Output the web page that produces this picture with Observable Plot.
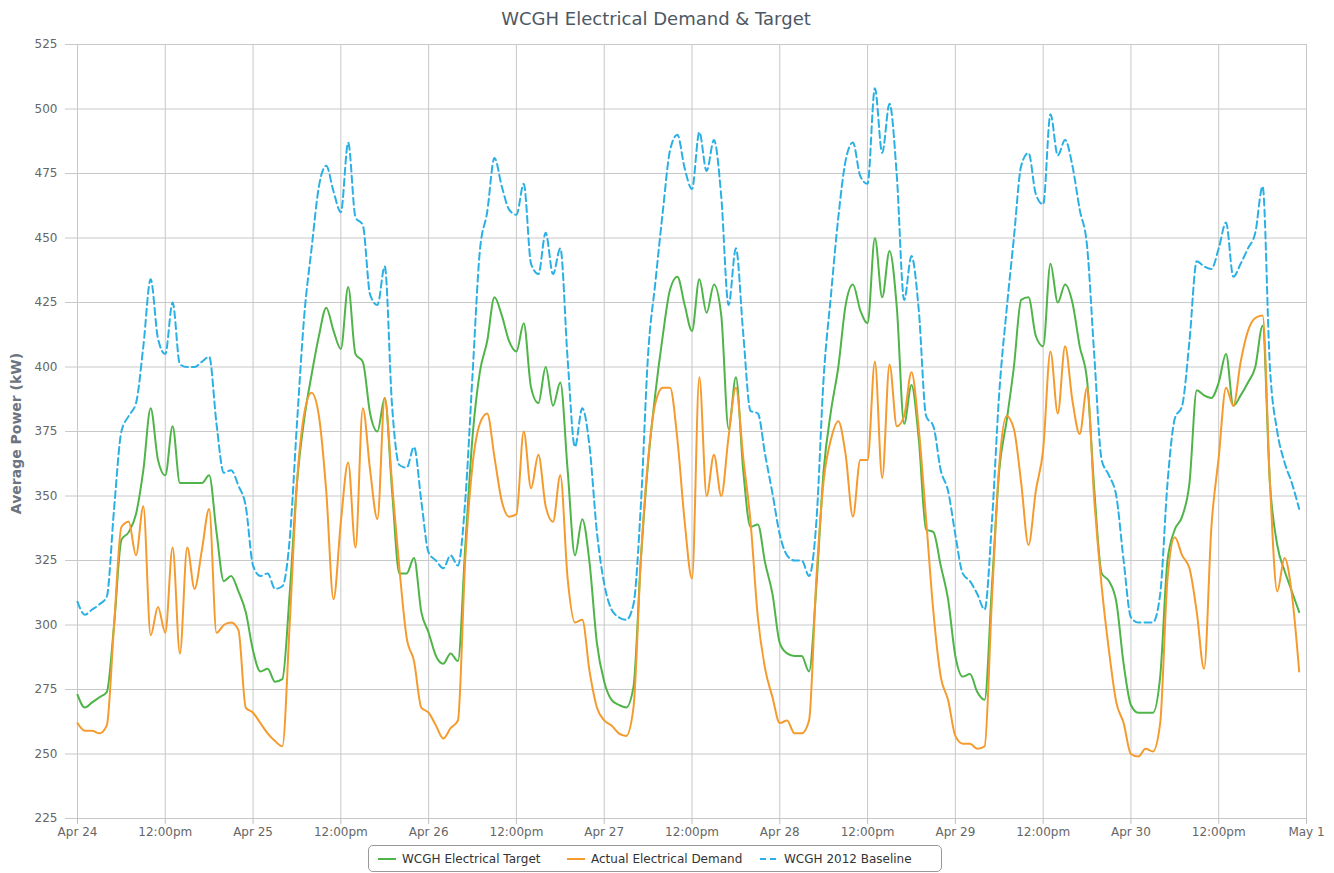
<!DOCTYPE html>
<html><head><meta charset="utf-8">
<script src="https://cdn.jsdelivr.net/npm/d3@7"></script>
<script src="https://cdn.jsdelivr.net/npm/@observablehq/plot@0.6"></script>
<style>
body{margin:0;background:#fff;font-family:"DejaVu Sans",Verdana,sans-serif;}
#wrap{position:relative;width:1334px;height:873px;}
#title{position:absolute;top:7px;left:456px;width:400px;text-align:center;font-size:18px;line-height:24px;color:#4d5864;}
#legend{position:absolute;left:368px;top:845px;width:574px;height:27px;border:1px solid #999;border-radius:5px;box-sizing:border-box;font-size:12px;color:#333;}
.item{position:absolute;top:0;height:25px;display:flex;align-items:center;white-space:nowrap;}
.item svg{margin-right:6px;}
</style></head>
<body>
<div id="wrap">
<div id="title"></div>
<div id="chart"></div>
<div id="legend"></div>
</div>
<script>
const title = "WCGH Electrical Demand & Target";
const yLabel = "Average Power (kW)";
const seriesNames = ["WCGH Electrical Target", "Actual Electrical Demand", "WCGH 2012 Baseline"];
const seriesColors = ["#4fb548", "#f59b2e", "#2bb0e5"];
const startDay = "2013-04-24"; // hourly readings from Apr 24 00:00 to Apr 30 23:00
const yTicks = [225,250,275,300,325,350,375,400,425,450,475,500,525];

const target = [
 273,268,270,272,274,300,333,336,343,360,384,364,358,377,355,355,355,355,358,336,317,319,313,305,
 290,282,283,278,279,312,355,380,397,412,423,414,407,431,405,402,382,375,388,352,320,320,326,305,
 297,288,285,289,286,330,373,398,410,427,420,410,406,417,392,386,400,385,394,360,327,341,324,293,
 278,271,269,268,276,325,363,390,412,430,435,424,414,434,421,432,420,376,396,360,338,339,324,312,
 293,289,288,288,282,315,360,383,400,424,432,422,417,450,427,445,423,378,393,372,337,336,323,310,
 288,280,281,274,271,315,360,379,400,426,427,412,408,440,425,432,425,408,395,352,320,317,309,285,
 269,266,266,266,280,325,337,342,355,391,389,388,394,405,385,389,394,400,416,355,331,321,313,305
];
const actual = [
 262,259,259,258,261,300,338,340,327,346,296,307,297,330,289,330,314,329,345,297,300,301,298,268,
 266,262,258,255,253,300,355,382,390,381,352,310,340,363,330,384,360,341,388,355,322,295,286,268,
 266,261,256,260,263,325,362,378,382,365,348,342,343,375,353,366,346,340,358,318,301,302,282,268,
 263,261,258,257,268,325,364,386,392,392,372,340,318,396,350,366,350,373,392,365,340,303,283,272,
 262,263,258,258,263,318,356,372,379,366,342,364,364,402,357,401,377,381,398,376,341,305,280,271,
 257,254,254,252,253,310,362,381,376,355,331,352,368,406,382,408,387,374,392,348,315,290,270,262,
 250,249,252,251,262,318,334,327,322,305,283,338,365,392,385,402,414,419,420,355,313,326,312,282
];
const baseline = [
 309,304,306,308,311,345,375,381,386,408,434,411,405,425,401,400,400,402,404,378,359,360,354,346,
 323,319,320,314,315,333,378,420,446,470,478,468,460,487,458,455,428,424,439,385,362,361,369,348,
 328,325,322,327,323,348,397,445,460,481,470,461,459,471,440,436,452,436,446,403,369,384,369,336,
 316,306,303,302,308,346,405,433,460,484,490,477,469,491,476,488,466,424,446,413,383,382,366,351,
 335,327,325,325,319,340,396,428,458,480,487,474,471,508,483,502,474,426,443,422,381,377,360,352,
 335,320,317,312,306,340,390,422,450,478,483,467,463,498,482,488,478,461,447,404,364,358,350,325,
 303,301,301,301,312,355,380,385,410,441,439,438,446,456,435,440,446,452,470,400,375,363,355,345
];

const t0 = new Date(startDay + "T00:00:00Z");
const hour = 3600 * 1000;
const rows = (vals, name) => vals.map((v, i) => ({date: new Date(+t0 + i * hour), value: v, series: name}));
const dTarget = rows(target, seriesNames[0]);
const dActual = rows(actual, seriesNames[1]);
const dBase = rows(baseline, seriesNames[2]);

const xEnd = d3.utcDay.offset(t0, 7);
const xTicks = d3.utcHour.every(12).range(t0, new Date(+xEnd + 1));
const fmtDay = d3.utcFormat("%b %-d");
const xFmt = d => d.getUTCHours() === 0 ? fmtDay(d) : "12:00pm";

document.getElementById("title").textContent = title;

const chart = Plot.plot({
  width: 1334, height: 873,
  marginTop: 44, marginBottom: 55, marginLeft: 77, marginRight: 28,
  style: {fontFamily: "DejaVu Sans, Verdana, sans-serif", fontSize: "12px", background: "#fff", color: "#666"},
  x: {type: "utc", domain: [t0, xEnd]},
  y: {domain: [225, 525]},
  marks: [
    Plot.gridX(xTicks, {stroke: "#c8c8c8", strokeOpacity: 1}),
    Plot.gridY(yTicks, {stroke: "#c8c8c8", strokeOpacity: 1}),
    Plot.axisY(yTicks, {tickSize: 12, tickPadding: 8, stroke: "#c8c8c8", fill: "#666", label: null}),
    Plot.axisX(xTicks, {tickSize: 6, tickPadding: 3, tickFormat: xFmt, stroke: "#c0c0c0", fill: "#666", label: null}),
    Plot.text([yLabel], {frameAnchor: "left", dx: -61, dy: 2, rotate: -90, textAnchor: "middle", fontWeight: "bold", fontSize: 14, fill: "#6b7480"}),
    Plot.line(dTarget, {x: "date", y: "value", stroke: seriesColors[0], strokeWidth: 2, curve: "monotone-x"}),
    Plot.line(dActual, {x: "date", y: "value", stroke: seriesColors[1], strokeWidth: 2, curve: "monotone-x"}),
    Plot.line(dBase, {x: "date", y: "value", stroke: seriesColors[2], strokeWidth: 2, strokeDasharray: "7,4", curve: "monotone-x"})
  ]
});
document.getElementById("chart").appendChild(chart);

// legend
const legend = document.getElementById("legend");
const lefts = [9, 198, 391];
seriesNames.forEach((name, i) => {
  const it = document.createElement("div");
  it.className = "item";
  it.style.left = lefts[i] + "px";
  const dash = i === 2 ? ' stroke-dasharray="6,4"' : '';
  it.innerHTML = `<svg width="18" height="4"><line x1="0" y1="2" x2="18" y2="2" stroke="${seriesColors[i]}" stroke-width="2"${dash}/></svg><span>${name}</span>`;
  legend.appendChild(it);
});
</script>
</body></html>
